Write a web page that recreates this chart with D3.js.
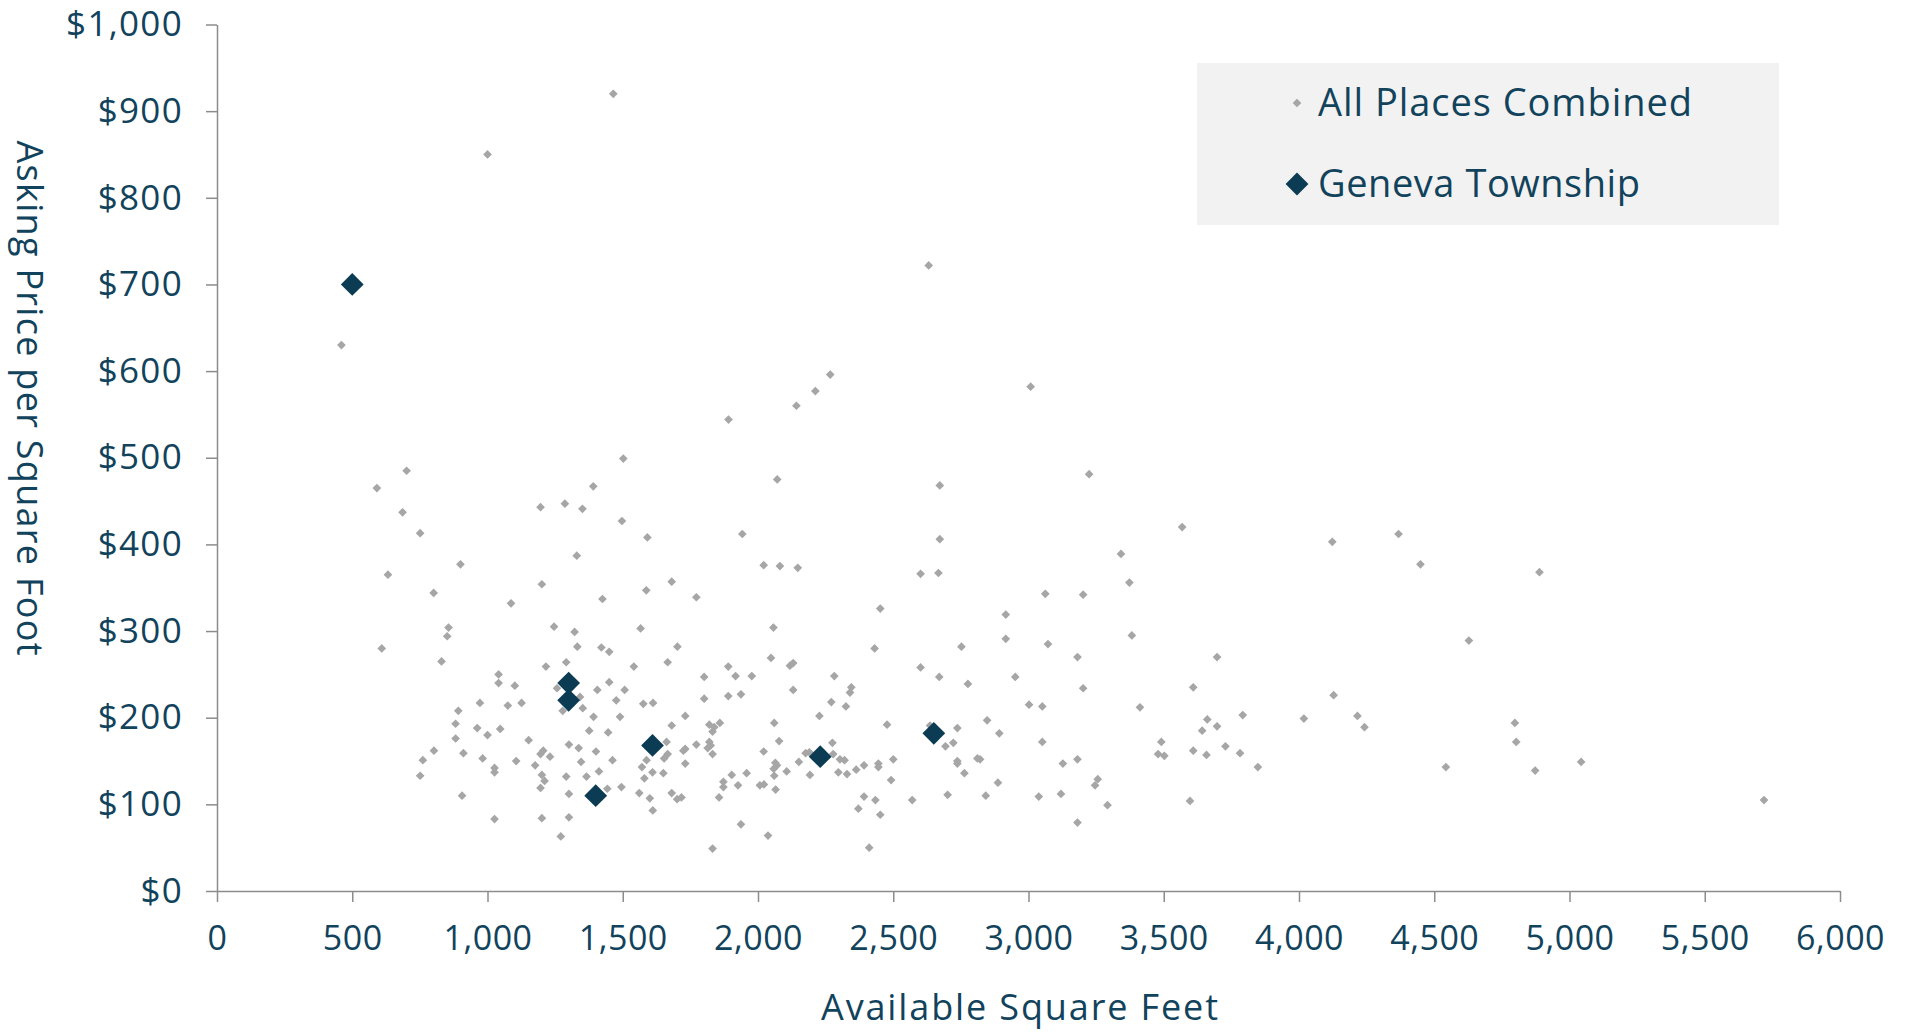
<!DOCTYPE html>
<html lang="en">
  <head>
    <meta charset="UTF-8" />
    <title>Asking Price per Square Foot</title>
    <script src="https://cdn.jsdelivr.net/npm/d3@7"></script>
    <style>
      body { margin: 0; background: #fff; }
      text { font-family: 'Century Gothic', 'Open Sans', sans-serif; fill: #12435c; }
    </style>
  </head>
  <body>
    <svg width="1913" height="1033"></svg>
  </body>

  <script>
    // 数据：所有地点
    var allSqft = [
      1465, 1000, 460, 701, 591, 686, 751, 1196, 1286, 1351, 1391, 1330,
      2631, 2267, 2212, 2142, 1891, 1502, 2071, 2672, 1497, 1591, 1942, 2672,
      3008, 3224, 3568, 3342, 4123, 4368,
      900, 632, 1201, 801, 1087, 1425, 856, 851, 609, 1246, 1322, 1332, 1421, 1450, 830, 1216, 1291,
      1041, 1041, 1101, 1257, 1342, 1406, 1450, 1476, 972, 1075, 1126, 892, 1278, 1352, 1392, 1490,
      882, 882, 962, 1000, 1047, 1376, 1446, 1152, 1301, 1337, 1401, 1462, 802, 761, 751, 911, 982,
      1026, 1026, 1106, 1176, 1196, 1206, 1231, 1201, 1211, 1196, 1291, 1346, 1366, 1412, 1443, 1301,
      906, 1026, 1201, 1301, 1271, 1495,
      2021, 2081, 2147, 1681, 1587, 1772, 1566, 2057, 1702, 1666, 1541, 2048, 2118, 2130, 1890, 1917,
      1977, 1801, 2282, 1507, 2130, 2345, 2340, 1576, 1612, 1801, 1890, 1937, 2271, 2325, 1731, 2227,
      1681, 2060, 1820, 1838, 1859, 1832, 1820, 1825, 1814, 1832, 1662, 1666, 1653, 1588, 1571, 1580,
      1610, 1650, 1731, 1731, 1772, 1724, 1561, 1600, 1611, 1681, 1701, 1717, 1856, 1872, 1872, 1903,
      1926, 1958, 2021, 2078, 2064, 2070, 2058, 2060, 2007, 2022, 2065, 2106, 2151, 2176, 2190, 2192,
      2275, 2278, 2303, 2320, 2297, 2329, 2363, 2371, 1937, 2037, 1832,
      2601, 2667, 3062, 3202, 2452, 2916, 2916, 3072, 2431, 2752, 3181, 2601, 2670, 2776, 2951, 3202,
      3002, 3051, 2477, 2636, 2737, 2847, 2892, 3051, 2693, 2722, 2500, 2392, 2445, 2445, 2492, 2737,
      2737, 2811, 2821, 2763, 2887, 3127, 3181, 3256, 3246, 2392, 2434, 2452, 2570, 2701, 2842, 3038,
      3120, 3181, 2411,
      3373, 3382, 3697, 3609, 3412, 3792, 3661, 3642, 3697, 3491, 3479, 3502, 3609, 3658, 3728, 3782,
      3848, 3597, 3292, 4018, 4128, 4216, 4242,
      4449, 4889, 4628, 4798, 4803, 4543, 4873, 5043, 5719
    ];
    var allPrice = [
      920, 850, 630, 485, 465, 437, 413, 443, 447, 441, 467, 387,
      722, 596, 577, 560, 544, 499, 475, 468, 427, 408, 412, 406,
      582, 481, 420, 389, 403, 412,
      377, 365, 354, 344, 332, 337, 304, 294, 280, 305, 299, 282, 281, 276, 265, 259, 264,
      250, 240, 237, 234, 224, 232, 241, 220, 217, 214, 217, 208, 208, 211, 201, 201,
      193, 176, 188, 180, 187, 185, 183, 174, 169, 165, 161, 151, 162, 151, 133, 159, 153,
      142, 137, 150, 145, 158, 162, 155, 134, 127, 119, 132, 149, 132, 138, 118, 112,
      110, 83, 84, 85, 63, 120,
      376, 375, 373, 357, 347, 339, 303, 304, 282, 264, 259, 269, 260, 263, 259, 248,
      248, 247, 248, 232, 232, 235, 229, 216, 217, 222, 225, 227, 218, 213, 202, 202,
      191, 194, 192, 189, 194, 184, 172, 168, 165, 158, 172, 158, 153, 151, 143, 130,
      137, 136, 164, 147, 169, 162, 113, 107, 93, 113, 106, 108, 108, 126, 120, 134,
      122, 136, 161, 173, 148, 145, 141, 133, 122, 123, 117, 138, 149, 159, 160, 134,
      171, 158, 152, 151, 137, 135, 140, 95, 77, 64, 49,
      366, 367, 343, 342, 326, 319, 291, 285, 280, 282, 270, 258, 247, 239, 247, 234,
      215, 213, 192, 191, 188, 197, 182, 172, 167, 171, 152, 145, 147, 143, 128, 150,
      147, 153, 152, 136, 125, 147, 152, 129, 122, 109, 105, 88, 105, 111, 110, 109,
      112, 79, 50,
      356, 295, 270, 235, 212, 203, 198, 185, 190, 172, 158, 156, 162, 157, 167, 159,
      143, 104, 99, 199, 226, 202, 189,
      377, 368, 289, 194, 172, 143, 139, 149, 105
    ];

    // 数据：Geneva Township
    var genevaSqft = [500, 1300, 1300, 1400, 1610, 2230, 2650];
    var genevaPrice = [700, 240, 220, 110, 168, 155, 182];

    var seriesNames = ['All Places Combined', 'Geneva Township'];
    var xTicks = d3.range(0, 6001, 500);
    var yTicks = d3.range(0, 1001, 100);

    var margin = { top: 24.5, right: 73, bottom: 142, left: 217 };

    var svg = d3.select('svg');
    var width = +svg.attr('width') - margin.left - margin.right;
    var height = +svg.attr('height') - margin.top - margin.bottom;
    var g = svg.append('g').attr('transform', 'translate(' + margin.left + ',' + margin.top + ')');

    // 比例尺
    var scaleX = d3.scaleLinear().domain([0, 6000]).range([0, width]);
    var scaleY = d3.scaleLinear().domain([0, 1000]).range([height, 0]);

    var axisColor = '#8c8c8c';

    // x轴
    var gx = g.append('g')
      .attr('transform', 'translate(0,' + height + ')')
      .call(d3.axisBottom(scaleX).tickValues(xTicks).tickFormat(d3.format(',')).tickSize(11).tickSizeOuter(0).tickPadding(24));
    // y轴
    var gy = g.append('g')
      .call(d3.axisLeft(scaleY).tickValues(yTicks).tickFormat(function (d) { return '$' + d3.format(',')(d); })
        .tickSize(11).tickSizeOuter(0).tickPadding(23));

    [gx, gy].forEach(function (a) {
      a.select('.domain').attr('stroke', axisColor).attr('stroke-width', 1.5);
      a.selectAll('.tick line').attr('stroke', axisColor).attr('stroke-width', 1.5);
      a.selectAll('.tick text').attr('font-size', 34).attr('font-family', null).style('fill', '#12435c');
    });
    gx.selectAll('.tick text').attr('letter-spacing', 0.5);
    gy.selectAll('.tick text').attr('font-size', 35).attr('letter-spacing', 1.3);

    // 坐标轴标题
    g.append('text')
      .attr('x', scaleX(3000) - 9)
      .attr('y', height + 129)
      .attr('text-anchor', 'middle')
      .attr('font-size', 36)
      .attr('textLength', 397)
      .attr('lengthAdjust', 'spacing')
      .text('Available Square Feet');

    svg.append('text')
      .attr('transform', 'translate(17,398) rotate(90)')
      .attr('text-anchor', 'middle')
      .attr('font-size', 36)
      .attr('textLength', 515)
      .attr('lengthAdjust', 'spacing')
      .text('Asking Price per Square Foot');

    // 菱形符号
    var smallDiamond = d3.symbol().type(d3.symbolSquare).size(38);
    var bigDiamond = d3.symbol().type(d3.symbolSquare).size(260);

    var allData = d3.range(allSqft.length).map(function (i) { return [allSqft[i], allPrice[i]]; });
    var genevaData = d3.range(genevaSqft.length).map(function (i) { return [genevaSqft[i], genevaPrice[i]]; });

    g.append('g').selectAll('path').data(allData).enter().append('path')
      .attr('d', smallDiamond)
      .attr('fill', '#a6a6a6')
      .attr('transform', function (d) { return 'translate(' + scaleX(d[0]) + ',' + scaleY(d[1]) + ') rotate(45)'; });

    g.append('g').selectAll('path').data(genevaData).enter().append('path')
      .attr('d', bigDiamond)
      .attr('fill', '#0b3c54')
      .attr('transform', function (d) { return 'translate(' + scaleX(d[0]) + ',' + scaleY(d[1]) + ') rotate(45)'; });

    // 图例
    var legendWidths = [374, 322];
    var legend = svg.append('g').attr('transform', 'translate(1197,63)');
    legend.append('rect').attr('width', 582).attr('height', 162).attr('fill', '#f2f2f2');
    var items = legend.selectAll('.item').data(seriesNames).enter().append('g')
      .attr('transform', function (d, i) { return 'translate(0,' + (40 + i * 81) + ')'; });
    items.append('path')
      .attr('d', function (d, i) { return i === 0 ? smallDiamond() : bigDiamond(); })
      .attr('fill', function (d, i) { return i === 0 ? '#a6a6a6' : '#0b3c54'; })
      .attr('transform', 'translate(100,0) rotate(45)');
    items.append('text')
      .attr('x', 121)
      .attr('y', 13)
      .attr('font-size', 38)
      .attr('textLength', function (d, i) { return legendWidths[i]; })
      .attr('lengthAdjust', 'spacing')
      .text(function (d) { return d; });
  </script>
</html>
